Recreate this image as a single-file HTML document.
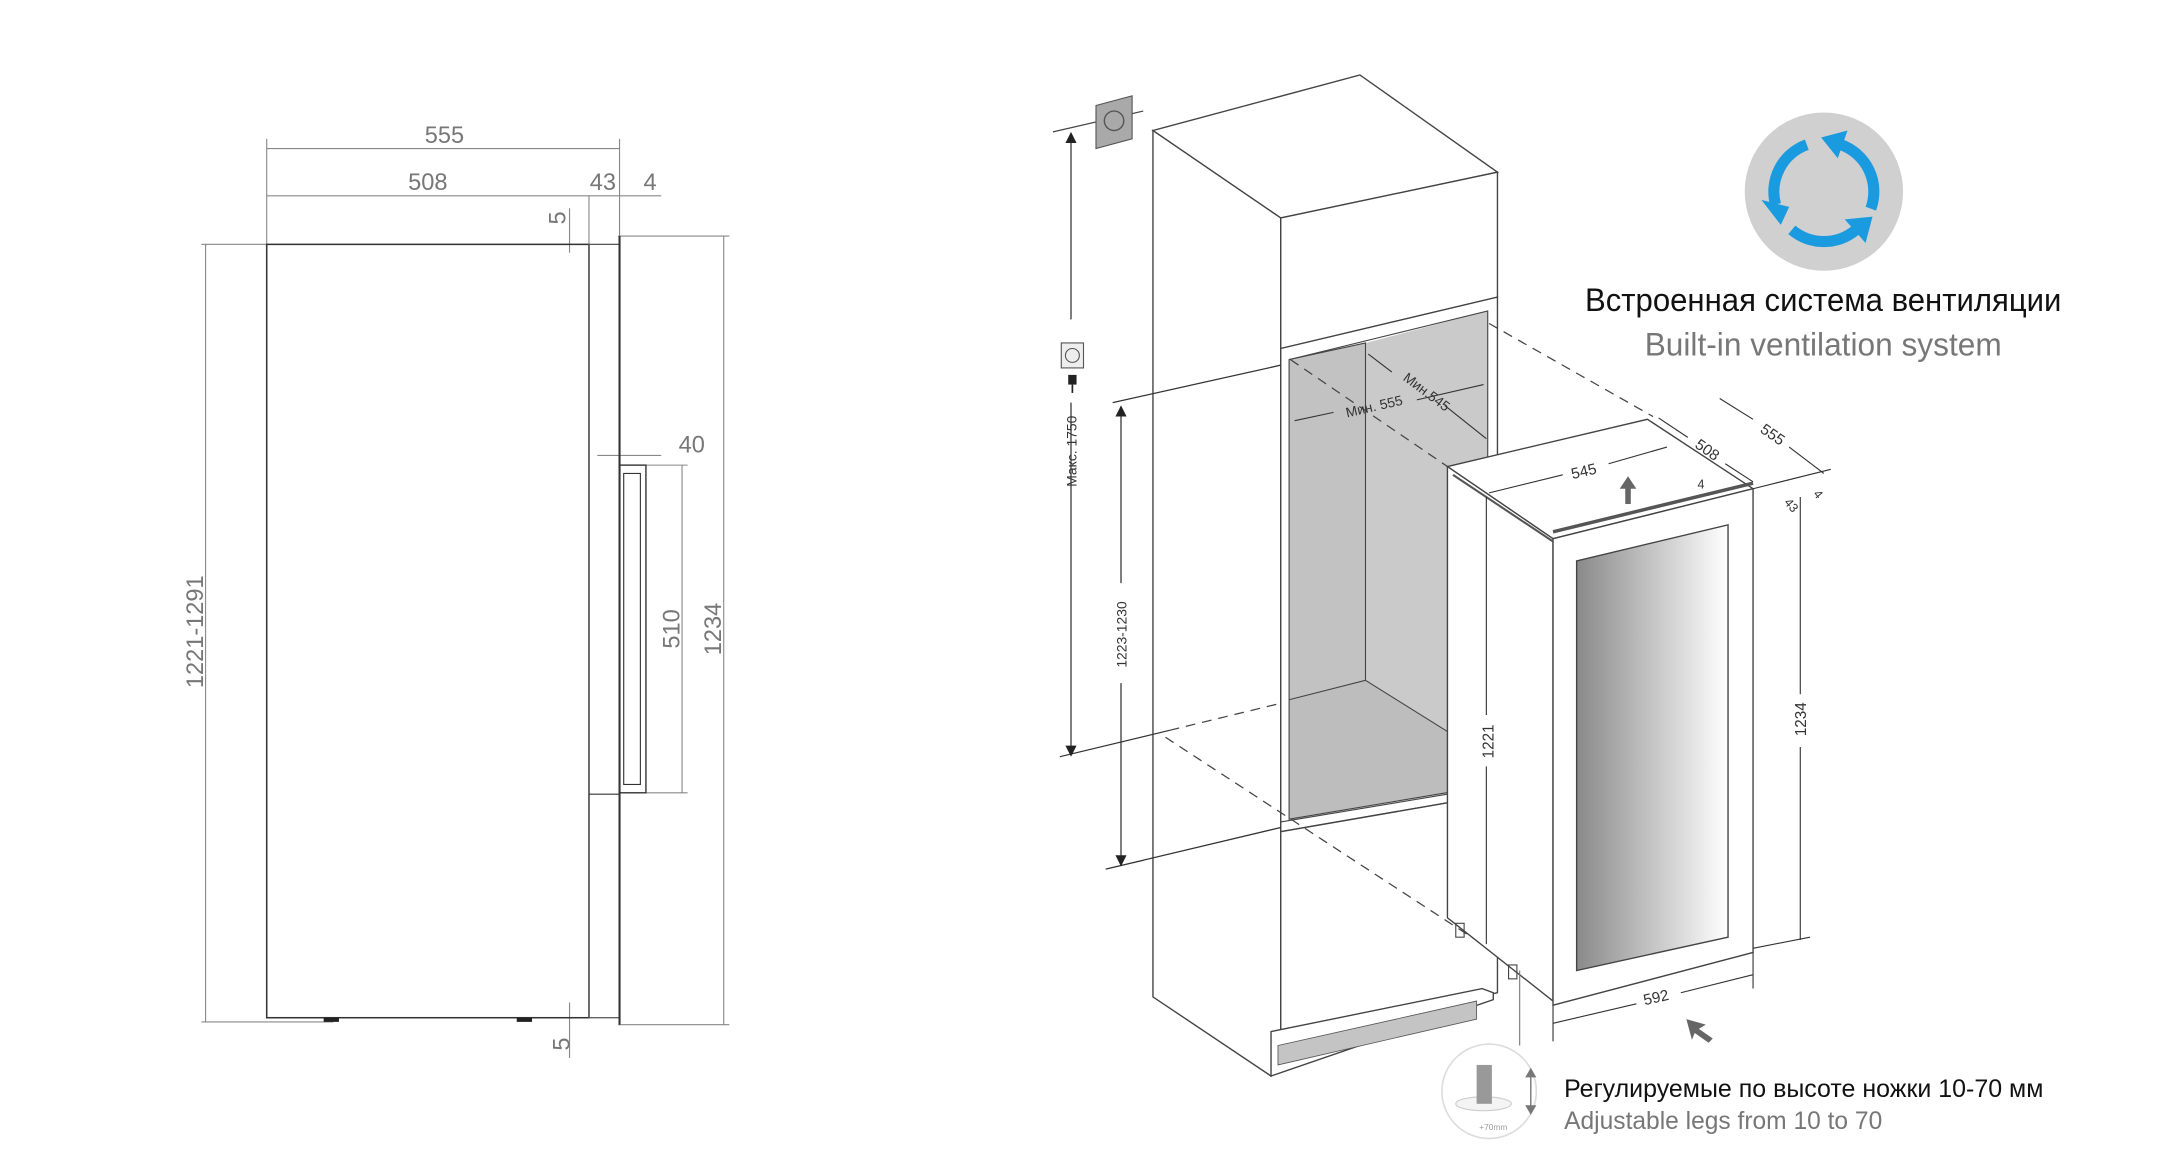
<!DOCTYPE html>
<html><head><meta charset="utf-8"><style>
html,body{margin:0;padding:0;background:#fff;}
svg{display:block;}
text{font-family:"Liberation Sans",sans-serif;}
.n{font-family:"Liberation Sans Narrow","Liberation Sans",sans-serif;}
</style></head><body>
<svg width="2167" height="1176" viewBox="0 0 1560 847" preserveAspectRatio="none" xmlns="http://www.w3.org/2000/svg">
<defs>
<linearGradient id="gl" x1="0" x2="1" y1="0" y2="0"><stop offset="0" stop-color="#8a8a8a"/><stop offset="1" stop-color="#ffffff"/></linearGradient>
</defs>
<rect width="1560" height="847" fill="#fff"/>

<!-- LEFT DRAWING -->
<g stroke="#888" stroke-width="0.8" fill="none">
<line x1="192" y1="107" x2="446" y2="107"/>
<line x1="192" y1="141" x2="424" y2="141"/>
<line x1="424" y1="141" x2="476" y2="141"/>
<line x1="192" y1="100" x2="192" y2="176"/>
<line x1="446" y1="100" x2="446" y2="170"/>
<line x1="424" y1="141" x2="424" y2="176"/>
<line x1="410" y1="150" x2="410" y2="182"/>
<line x1="410" y1="722" x2="410" y2="762"/>
<line x1="445" y1="170" x2="525" y2="170"/>
<line x1="445" y1="738" x2="525" y2="738"/>
<line x1="521" y1="170" x2="521" y2="738"/>
<line x1="145" y1="176" x2="192" y2="176"/>
<line x1="145" y1="736" x2="240" y2="736"/>
<line x1="148" y1="176" x2="148" y2="736"/>
<line x1="430" y1="328" x2="476" y2="328"/>
<line x1="465" y1="335" x2="495" y2="335"/>
<line x1="465" y1="571" x2="495" y2="571"/>
<line x1="491" y1="335" x2="491" y2="571"/>
</g>
<g fill="#777" font-size="17">
<text x="320" y="103" text-anchor="middle">555</text>
<text x="308" y="137" text-anchor="middle">508</text>
<text x="434" y="137" text-anchor="middle">43</text>
<text x="468" y="137" text-anchor="middle">4</text>
<text x="498" y="326" text-anchor="middle">40</text>
<text transform="translate(407,157) rotate(-90)" text-anchor="middle">5</text>
<text transform="translate(410,752) rotate(-90)" text-anchor="middle">5</text>
<text transform="translate(489,453) rotate(-90)" text-anchor="middle">510</text>
<text transform="translate(519,453) rotate(-90)" text-anchor="middle">1234</text>
<text transform="translate(146,455) rotate(-90)" text-anchor="middle">1221-1291</text>
</g>
<g stroke="#333" stroke-width="1.1" fill="none">
<rect x="192" y="176" width="232" height="557"/>
<rect x="424" y="176" width="22" height="557" stroke="#555" stroke-width="0.9"/>
<line x1="446" y1="170" x2="446" y2="738" stroke-width="1.5"/>
<line x1="424" y1="572" x2="446" y2="572" stroke-width="0.8"/>
<rect x="446" y="335" width="19" height="236" stroke-width="1"/>
<rect x="449" y="341" width="12" height="224" stroke-width="0.8"/>
</g>
<rect x="233" y="733" width="11" height="3" fill="#222"/>
<rect x="372" y="733" width="11" height="3" fill="#222"/>

<!-- RIGHT DRAWING: cabinet -->
<g stroke="#444" stroke-width="1" fill="#fff">
<polygon points="830,94 979,54 1078,124 922,157"/>
<polygon points="830,94 922,157 922,751 915,775 830,718"/>
<polygon points="922,157 1078,124 1078,214 922,251"/>
<polygon points="922,251 1078,214 1078,572 922,599"/>
</g>
<polygon points="928,259 983,247 983,490 928,504" fill="#c2c2c2"/>
<polygon points="983,247 1071,224 1071,545 983,490" fill="#cacaca"/>
<polygon points="928,504 983,490 1071,545 1071,566 928,590" fill="#bdbdbd"/>
<g stroke="#444" stroke-width="0.8" fill="none">
<polyline points="928,259 983,247 983,490 928,504"/>
<line x1="983" y1="490" x2="1071" y2="545"/>
<polygon points="928,259 1071,224 1071,566 928,590"/>
<line x1="922" y1="592" x2="1078" y2="566"/>
<line x1="922" y1="599" x2="1078" y2="572"/>
</g>
<g stroke="#444" stroke-width="1" fill="#fff">
<polygon points="922,599 1078,572 1078,715 922,751"/>
<polygon points="915,743 1067,712 1075,715 1075,720 915,775"/>
</g>
<polygon points="920,753 1063,721 1063,734 920,767" fill="#c4c4c4" stroke="#555" stroke-width="0.6"/>

<!-- wall outlet and dims -->
<line x1="758" y1="95" x2="823" y2="80" stroke="#444" stroke-width="0.9"/>
<polygon points="789,76 815,69 815,100 789,107" fill="#a9a9a9" stroke="#555" stroke-width="0.8"/>
<circle cx="802" cy="87" r="7" fill="none" stroke="#555" stroke-width="1"/>
<g stroke="#333" stroke-width="0.9" fill="none">
<line x1="771" y1="97" x2="771" y2="230"/>
<line x1="771" y1="290" x2="771" y2="542"/>
<line x1="763" y1="545" x2="842" y2="526"/>
<line x1="801" y1="290" x2="922" y2="263"/>
<line x1="796" y1="626" x2="922" y2="596"/>
<line x1="807" y1="293" x2="807" y2="420"/>
<line x1="807" y1="492" x2="807" y2="623"/>
</g>
<polygon points="771,95 767,103 775,103" fill="#222"/>
<polygon points="771,545 767,537 775,537" fill="#222"/>
<polygon points="807,292 803,300 811,300" fill="#222"/>
<polygon points="807,624 803,616 811,616" fill="#222"/>
<rect x="764" y="247" width="16" height="18" fill="#eee" stroke="#555" stroke-width="0.8"/>
<circle cx="772" cy="256" r="5" fill="none" stroke="#555" stroke-width="0.8"/>
<rect x="769" y="270" width="6" height="7" fill="#222"/><line x1="772" y1="277" x2="772" y2="283" stroke="#222" stroke-width="1.2"/>
<g fill="#333" font-size="10">
<text transform="translate(775,325) rotate(-90)" text-anchor="middle">Макс. 1750</text>
<text transform="translate(811,457) rotate(-90)" text-anchor="middle">1223-1230</text>
</g>
<!-- dashed -->
<g stroke="#444" stroke-width="0.9" fill="none" stroke-dasharray="7,5">
<line x1="1072" y1="233" x2="1190" y2="300"/>
<line x1="929" y1="259" x2="1042" y2="336"/>
<line x1="842" y1="526" x2="920" y2="507"/>
<line x1="839" y1="531" x2="1067" y2="680"/>
</g>
<!-- inner min dims -->
<g stroke="#333" stroke-width="0.8">
<line x1="932" y1="303" x2="960" y2="297"/>
<line x1="1020" y1="288" x2="1068" y2="277"/>
<line x1="985" y1="255" x2="1002" y2="268"/>
<line x1="1040" y1="292" x2="1070" y2="316"/>
</g>
<g fill="#333" font-size="10">
<text transform="translate(990,296) rotate(-13)" text-anchor="middle">Мин. 555</text>
<text transform="translate(1025,285) rotate(37)" text-anchor="middle">Мин.545</text>
</g>

<!-- fridge -->
<g stroke="#444" stroke-width="1" fill="#fff">
<polygon points="1042,336 1186,302 1262,352 1118,388"/>
<polygon points="1042,336 1118,388 1118,721 1042,661"/>
<polygon points="1118,388 1262,352 1262,686 1118,724"/>
</g>
<line x1="1118" y1="383" x2="1262" y2="348" stroke="#555" stroke-width="2.5"/>
<line x1="1046" y1="342" x2="1118" y2="390" stroke="#555" stroke-width="1.5"/>
<polygon points="1135,404 1244,378 1244,675 1135,699" fill="url(#gl)" stroke="#444" stroke-width="1"/>
<polygon points="1172,343 1166,352 1170,352 1170,363 1174,363 1174,352 1178,352" fill="#666"/>
<g stroke="#333" stroke-width="0.8" fill="none">
<line x1="1072" y1="355" x2="1125" y2="342"/><line x1="1158" y1="334" x2="1200" y2="322"/>
<line x1="1194" y1="301" x2="1215" y2="315"/><line x1="1242" y1="334" x2="1262" y2="347"/>
<line x1="1238" y1="287" x2="1262" y2="302"/><line x1="1288" y1="322" x2="1313" y2="341"/>
<line x1="1262" y1="352" x2="1318" y2="338"/>
<line x1="1070" y1="358" x2="1070" y2="515"/><line x1="1070" y1="552" x2="1070" y2="680"/>
<line x1="1296" y1="358" x2="1296" y2="500"/><line x1="1296" y1="538" x2="1296" y2="677"/>
<line x1="1262" y1="683" x2="1303" y2="675"/>
<line x1="1118" y1="724" x2="1118" y2="750"/><line x1="1262" y1="686" x2="1262" y2="712"/>
<line x1="1118" y1="737" x2="1178" y2="723"/><line x1="1210" y1="715" x2="1262" y2="702"/>
<line x1="1094" y1="699" x2="1094" y2="753" stroke="#777"/>
</g>
<g fill="#333" font-size="11">
<text transform="translate(1141,343) rotate(-13)" text-anchor="middle">545</text>
<text transform="translate(1227,327) rotate(35)" text-anchor="middle">508</text>
<text transform="translate(1274,316) rotate(35)" text-anchor="middle">555</text>
<text transform="translate(1075,534) rotate(-90)" text-anchor="middle">1221</text>
<text transform="translate(1300,518) rotate(-90)" text-anchor="middle">1234</text>
<text transform="translate(1193,722) rotate(-13)" text-anchor="middle">592</text>
<text x="1222" y="352" font-size="9">4</text>
<text transform="translate(1284,362) rotate(50)" font-size="9">43</text>
<text transform="translate(1305,356) rotate(50)" font-size="9">4</text>
</g>
<polygon points="1214,734 1228,738 1223,741 1233,748 1230,751 1220,744 1218,749" fill="#666"/>
<g stroke="#444" stroke-width="0.8" fill="none">
<rect x="1048" y="665" width="6" height="10"/><rect x="1086" y="695" width="6" height="10"/>
</g>

<!-- legs icon -->
<circle cx="1072" cy="786" r="34" fill="#fff" stroke="#ddd" stroke-width="1.2"/>
<ellipse cx="1068" cy="795" rx="20" ry="5" fill="#f4f4f4" stroke="#ccc" stroke-width="0.8"/>
<rect x="1063" y="767" width="11" height="28" fill="#999"/>
<line x1="1102" y1="772" x2="1102" y2="800" stroke="#777" stroke-width="1"/>
<polygon points="1102,769 1098,776 1106,776" fill="#777"/><polygon points="1102,803 1098,796 1106,796" fill="#777"/>
<text x="1075" y="814" font-size="6" fill="#999" text-anchor="middle">+70mm</text>

<!-- ventilation icon -->
<circle cx="1313" cy="138" r="57" fill="#d0d0d0"/>
<g stroke="#1a9be0" stroke-width="8" fill="none">
<path d="M1300.7,104.2 A36,36 0 0 0 1278.2,147.3"/>
<path d="M1346.8,150.3 A36,36 0 0 0 1325.3,104.2"/>
<path d="M1289.9,165.6 A36,36 0 0 0 1336.1,165.6"/>
</g>
<g fill="#1a9be0">
<polygon points="1282,162 1268,144 1288,149"/>
<polygon points="1311,99 1330,94 1323,114"/>
<polygon points="1348,156 1343,175 1328,158"/>
</g>

<!-- texts -->
<text class="n" x="1141" y="224" font-size="23" fill="#111" textLength="343" lengthAdjust="spacingAndGlyphs">Встроенная система вентиляции</text>
<text class="n" x="1184" y="256" font-size="23" fill="#777" textLength="257" lengthAdjust="spacingAndGlyphs">Built-in ventilation system</text>
<text class="n" x="1126" y="790" font-size="18" fill="#111" textLength="345" lengthAdjust="spacingAndGlyphs">Регулируемые по высоте ножки 10-70 мм</text>
<text class="n" x="1126" y="813" font-size="18" fill="#777" textLength="229" lengthAdjust="spacingAndGlyphs">Adjustable legs from 10 to 70</text>
</svg>
</body></html>
